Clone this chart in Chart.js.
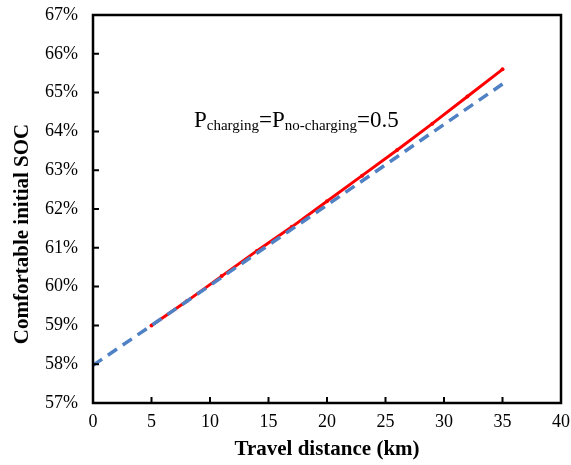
<!DOCTYPE html>
<html>
<head>
<meta charset="utf-8">
<script src="https://cdn.jsdelivr.net/npm/chart.js@4"></script>
<style>
  html, body { margin: 0; padding: 0; background: #fff; }
  #wrap { width: 571px; height: 465px; }
</style>
</head>
<body>
<div id="wrap"><canvas id="myChart" width="571" height="465"></canvas></div>
<script>
// values
const distRed = [5, 8, 11, 14, 17, 20, 23, 26, 29, 32, 35];
const socRed = [59.0, 59.62, 60.27, 60.92, 61.54, 62.2, 62.86, 63.52, 64.2, 64.9, 65.6];
const distBlue = [0, 5, 10, 15, 20, 25, 30, 35];
const socBlue = [57.97, 59.0, 60.03, 61.07, 62.1, 63.14, 64.18, 65.22];
const xTicks = [0, 5, 10, 15, 20, 25, 30, 35, 40];
const yTicks = [57, 58, 59, 60, 61, 62, 63, 64, 65, 66, 67];

const serif = '"Liberation Serif", "Times New Roman", serif';

const toPts = (xs, ys) => xs.map((x, i) => ({ x: x, y: ys[i] }));

// frame, inward ticks, axis titles and the note
const decor = {
    id: 'decor',
    afterDraw(chart) {
        const { ctx, chartArea: a, scales } = chart;
        ctx.save();
        ctx.strokeStyle = '#000';
        ctx.lineWidth = 2.5;
        ctx.strokeRect(a.left, a.top, a.right - a.left, a.bottom - a.top);

        ctx.lineWidth = 2;
        ctx.beginPath();
        xTicks.forEach(v => {
            const px = scales.x.getPixelForValue(v);
            ctx.moveTo(px, a.bottom);
            ctx.lineTo(px, a.bottom - 6);
        });
        yTicks.forEach(v => {
            const py = scales.y.getPixelForValue(v);
            ctx.moveTo(a.left, py);
            ctx.lineTo(a.left + 6, py);
        });
        ctx.stroke();

        ctx.fillStyle = '#000';
        ctx.font = 'bold 21px ' + serif;
        ctx.textAlign = 'center';
        ctx.textBaseline = 'middle';
        ctx.fillText('Travel distance (km)', (a.left + a.right) / 2, 450);

        ctx.save();
        ctx.translate(23, 234);
        ctx.rotate(-Math.PI / 2);
        ctx.fillText('Comfortable initial SOC', 0, 0);
        ctx.restore();

        // P_charging = P_no-charging = 0.5
        const parts = [
            ['P', 23, 0], ['charging', 15, 3], ['=P', 23, 0],
            ['no-charging', 15, 3], ['=0.5', 23, 0]
        ];
        let x = 194;
        const base = 127;
        ctx.textAlign = 'left';
        ctx.textBaseline = 'alphabetic';
        parts.forEach(p => {
            ctx.font = p[1] + 'px ' + serif;
            ctx.fillText(p[0], x, base + p[2]);
            x += ctx.measureText(p[0]).width;
        });
        ctx.restore();
    }
};

new Chart(document.getElementById('myChart'), {
    type: 'line',
    data: {
        datasets: [
            {
                label: 'dashed',
                data: toPts(distBlue, socBlue),
                borderColor: '#4f81c4',
                borderWidth: 3.5,
                borderDash: [11, 7],
                pointRadius: 0,
                tension: 0
            },
            {
                label: 'solid',
                data: toPts(distRed, socRed),
                borderColor: '#ff0000',
                backgroundColor: '#ff0000',
                borderWidth: 3,
                pointRadius: 2,
                pointBorderWidth: 0,
                pointHoverRadius: 2,
                tension: 0
            }
        ]
    },
    plugins: [decor],
    options: {
        responsive: false,
        animation: false,
        layout: { padding: { left: 0, right: 10, top: 15, bottom: 0 } },
        plugins: { legend: { display: false }, tooltip: { enabled: false } },
        scales: {
            x: {
                type: 'linear',
                min: 0,
                max: 40,
                afterFit: s => { s.height = 62; s.paddingLeft = 0; s.paddingRight = 0; },
                afterBuildTicks: s => { s.ticks = xTicks.map(v => ({ value: v })); },
                grid: { display: false, drawTicks: false },
                border: { display: false },
                ticks: { color: '#000', padding: 8, font: { family: serif, size: 18 } }
            },
            y: {
                min: 57,
                max: 67,
                afterFit: s => { s.width = 93; s.paddingTop = 0; s.paddingBottom = 0; },
                afterBuildTicks: s => { s.ticks = yTicks.map(v => ({ value: v })); },
                grid: { display: false, drawTicks: false },
                border: { display: false },
                ticks: {
                    color: '#000',
                    padding: 15,
                    font: { family: serif, size: 18 },
                    callback: v => v + '%'
                }
            }
        }
    }
});
</script>
</body>
</html>
